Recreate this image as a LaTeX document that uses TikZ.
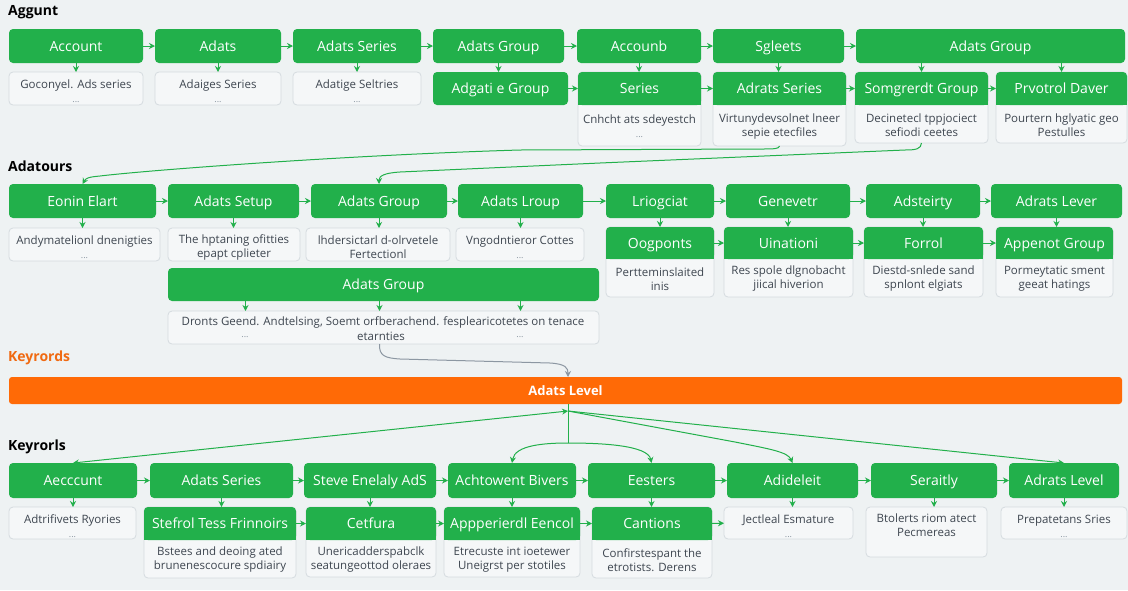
\documentclass[tikz,border=0pt]{standalone}
\usepackage{fontspec}
\setmainfont{Open Sans}
\usetikzlibrary{arrows.meta}
\definecolor{bg}{HTML}{EEF2F3}
\definecolor{gr}{HTML}{22B04B}
\definecolor{gbord}{HTML}{D5DBDF}
\definecolor{gfill}{HTML}{F5F7F8}
\definecolor{tx}{HTML}{3E4650}
\definecolor{org}{HTML}{FF6A06}
\definecolor{orgt}{HTML}{F06A12}
\definecolor{lgray}{HTML}{8C97A2}
\newcommand\dotsx{{\fontsize{9}{10}\selectfont\color{lgray}...}}
\newcommand\gbox[6]{%
 \node[gbx, minimum width={(#4-#2)*1pt}, minimum height={(#5-#3)*1pt}] (#1) at ({(#2+#4)/2},{(#3+#5)/2}) {#6};}
\newcommand\wbox[6]{%
 \node[wbx, minimum width={(#4-#2)*1pt}, minimum height={(#5-#3)*1pt}] (#1) at ({(#2+#4)/2},{(#3+#5)/2}) {};
 \node[wtxt] (#1t) at ({(#2+#4)/2},{(#3+#5)/2+3}) {#6};}
\newcommand\card[8]{%
 \node[wbx, minimum width={(#4-#2)*1pt}, minimum height={(#6-#3)*1pt}] (#1b) at ({(#2+#4)/2},{(#3+#6)/2}) {};
 \node[wtxt] (#1t) at ({(#2+#4)/2},{(#5+#6)/2+1}) {#8};
 \fill[gr] ({#2},{#5-7}) rectangle ({#4},{#5});
 \node[gbx, minimum width={(#4-#2)*1pt}, minimum height={(#5-#3)*1pt}] (#1) at ({(#2+#4)/2},{(#3+#5)/2}) {#7};}
\begin{document}
\begin{tikzpicture}[x=1pt,y=-1pt,
 gbx/.style={fill=gr, rounded corners=4pt, text=white, font=\fontsize{14}{16}\selectfont, inner sep=0pt, outer sep=0pt, text height=10pt, text depth=0pt},
 wbx/.style={fill=gfill, draw=gbord, line width=0.8pt, rounded corners=4pt, inner sep=0pt, outer sep=0pt},
 wtxt/.style={text=tx, font=\fontsize{11.5}{14}\selectfont, align=center, inner sep=0pt},
 arr/.style={draw=gr, line width=1pt, -{Stealth[length=6pt,width=6pt]}},
 darr/.style={draw=gr, line width=1pt, {Stealth[length=6pt,width=6pt]}-{Stealth[length=6pt,width=6pt]}},
 garr/.style={draw=lgray, line width=1pt, -{Stealth[length=6pt,width=6pt]}},
 ttl/.style={font=\bfseries\fontsize{14}{16}\selectfont, anchor=west, inner sep=0pt},
]
\fill[bg] (0,0) rectangle (1128,590);
\useasboundingbox (0,0) rectangle (1128,590);

% titles
\node[ttl] (t1) at (8,12) {Aggunt};
\node[ttl] (t2) at (8,166) {Adatours};
\node[ttl, text=orgt] (t3) at (8,358) {Keyrords};
\node[ttl] (t4) at (8,447) {Keyrorls};

% ---------- section 1
\gbox{a1}{9}{29}{143}{63}{Account}
\gbox{a2}{155}{29}{281}{63}{Adats}
\gbox{a3}{293}{29}{421}{63}{Adats Series}
\gbox{a4}{433}{29}{564}{63}{Adats Group}
\gbox{a5}{577}{29}{701}{63}{Accounb}
\gbox{a6}{713}{29}{844}{63}{Sgleets}
\gbox{a7}{856}{29}{1125}{63}{Adats Group}

\wbox{b1}{9}{72}{143}{105}{Goconyel. Ads series\\\dotsx}
\wbox{b2}{155}{72}{281}{105}{Adaiges Series\\\dotsx}
\wbox{b3}{293}{72}{421}{105}{Adatige Seltries\\\dotsx}
\gbox{b4}{433}{72}{568}{105}{Adgati e Group}
\card{b5}{578}{72}{701}{105}{146}{Series}{Cnhcht ats sdeyestch\\\dotsx}
\card{b6}{713}{72}{846}{105}{146}{Adrats Series}{Virtunydevsolnet lneer\\sepie etecfiles}
\card{b7}{855}{72}{988}{105}{143}{Somgrerdt Group}{Decinetecl tppjociect\\sefiodi ceetes}
\card{b8}{996}{72}{1127}{105}{143}{Prvotrol Daver}{Pourtern hglyatic geo\\Pestulles}

\draw[arr] (a1) -- (a2);
\draw[arr] (a2) -- (a3);
\draw[arr] (a3) -- (a4);
\draw[arr] (a4) -- (a5);
\draw[arr] (a5) -- (a6);
\draw[arr] (a6) -- (a7);
\draw[arr] (a1.south) -- (a1.south |- b1.north);
\draw[arr] (a2.south) -- (a2.south |- b2.north);
\draw[arr] (a3.south) -- (a3.south |- b3.north);
\draw[arr] (a4.south) -- (a4.south |- b4.north);
\draw[arr] (a5.south) -- (a5.south |- b5.north);
\draw[arr] (a6.south) -- (a6.south |- b6.north);
\draw[arr] (b7.north |- a7.south) -- (b7.north);
\draw[arr] (b8.north |- a7.south) -- (b8.north);
\draw[arr] (b4) -- (b5);
\draw[arr] (b5) -- (b6);
\draw[arr] (b6) -- (b7);
\draw[arr] (b7) -- (b8);

% ---------- section 2
\gbox{c1}{9}{184}{156}{218}{Eonin Elart}
\gbox{c2}{168}{184}{299}{218}{Adats Setup}
\gbox{c3}{311}{184}{447}{218}{Adats Group}
\gbox{c4}{458}{184}{583}{218}{Adats Lroup}
\gbox{c5}{606}{184}{714}{218}{Lriogciat}
\gbox{c6}{726}{184}{850}{218}{Genevetr}
\gbox{c7}{866}{184}{980}{218}{Adsteirty}
\gbox{c8}{991}{184}{1122}{218}{Adrats Lever}

\wbox{d1}{9}{228}{160}{261}{Andymatelionl dnenigties\\\dotsx}
\wbox{d2}{168}{228}{300}{261}{The hptaning ofitties\\epapt cplieter}
\wbox{d3}{306}{228}{450}{261}{lhdersictarl d-olrvetele\\Fertectionl}
\wbox{d4}{456}{228}{584}{261}{Vngodntieror Cottes\\\dotsx}
\card{d5}{606}{227}{714}{259}{297}{Oogponts}{Pertteminslaited\\inis}
\card{d6}{724}{227}{853}{259}{297}{Uinationi}{Res spole dlgnobacht\\jiical hiverion}
\card{d7}{864}{227}{983}{259}{297}{Forrol}{Diestd-snlede sand\\spnlont elgiats}
\card{d8}{996}{227}{1113}{259}{297}{Appenot Group}{Pormeytatic sment\\geeat hatings}

\gbox{e}{168}{268}{599}{301}{Adats Group}
\node[wbx, minimum width=431pt, minimum height=33pt] (f) at (383.5,327.5) {};
\node[wtxt] (f1) at (383,322) {Dronts Geend. Andtelsing, Soemt orfberachend. fesplearicotetes on tenace};
\node[wtxt] (f2) at (381,336) {etarnties};
\node[wtxt] (f3) at (245,337) {\dotsx};
\node[wtxt] (f4) at (520,337) {\dotsx};

\draw[arr] (c1) -- (c2);
\draw[arr] (c2) -- (c3);
\draw[arr] (c3) -- (c4);
\draw[arr] (c4) -- (c5);
\draw[arr] (c5) -- (c6);
\draw[arr] (c6) -- (c7);
\draw[arr] (c7) -- (c8);
\draw[arr] (c1.south) -- (c1.south |- d1.north);
\draw[arr] (c2.south) -- (c2.south |- d2.north);
\draw[arr] (c3.south) -- (c3.south |- d3.north);
\draw[arr] (c4.south) -- (c4.south |- d4.north);
\draw[arr] (c5.south) -- (c5.south |- d5.north);
\draw[arr] (c6.south) -- (c6.south |- d6.north);
\draw[arr] (c7.south) -- (c7.south |- d7.north);
\draw[arr] (c8.south) -- (c8.south |- d8.north);
\draw[arr] (d5) -- (d6);
\draw[arr] (d6) -- (d7);
\draw[arr] (d7) -- (d8);
\draw[arr] ([xshift=-138pt]e.south) -- ([xshift=-138pt]e.south |- f.north);
\draw[arr] ([xshift=-4pt]e.south) -- ([xshift=-4pt]e.south |- f.north);
\draw[arr] ([xshift=137pt]e.south) -- ([xshift=137pt]e.south |- f.north);

% long connectors from section 1
\draw[arr] (b6b.south) .. controls (779,149) and (774,149) .. (760,149) -- (520,150)
  .. controls (350,155) and (150,170) .. (100,176) .. controls (89,177) and (86,178) .. (c1.north);
\draw[arr] (b7b.south) .. controls (921,149) and (916,150) .. (905,150) -- (600,163) -- (400,172)
  .. controls (384,173) and (379,176) .. (c3.north);

% ---------- section 3
\node[fill=org, rounded corners=3pt, minimum width=1113pt, minimum height=27pt, text=white,
  font=\bfseries\fontsize{13}{15}\selectfont, inner sep=0pt, text height=9.5pt, text depth=0pt] (bar) at (565.5,390.5) {Adats Level};
\draw[garr] ([xshift=-4pt]f.south) .. controls (379,356) and (385,358) .. (400,359) -- (550,363)
  .. controls (566,364) and (568,368) .. (568,377);

% ---------- section 4
\gbox{g1}{9}{463}{137}{498}{Aecccunt}
\gbox{g2}{150}{463}{293}{498}{Adats Series}
\gbox{g3}{304}{463}{436}{498}{Steve Enelaly AdS}
\gbox{g4}{448}{463}{576}{498}{Achtowent Bivers}
\gbox{g5}{588}{463}{715}{498}{Eesters}
\gbox{g6}{727}{463}{858}{498}{Adideleit}
\gbox{g7}{871}{463}{997}{498}{Seraitly}
\gbox{g8}{1009}{463}{1119}{498}{Adrats Level}

\wbox{h1}{9}{507}{136}{539}{Adtrifivets Ryories\\\dotsx}
\card{h2}{144}{507}{296}{540}{578}{Stefrol Tess Frinnoirs}{Bstees and deoing ated\\brunenescocure spdiairy}
\card{h3}{306}{507}{436}{540}{577}{Cetfura}{Unericadderspabclk\\seatungeottod oleraes}
\card{h4}{444}{507}{580}{540}{577}{Appperierdl Eencol}{Etrecuste int ioetewer\\Uneigrst per stotiles}
\card{h5}{592}{507}{712}{540}{578}{Cantions}{Confirstespant the\\etrotists. Derens}
\wbox{h6}{724}{507}{853}{539}{Jectleal Esmature\\\dotsx}
\node[wbx, minimum width=121pt, minimum height=50pt] (h7) at (926.5,532) {};
\node[wtxt] (h7t) at (926.5,525) {Btolerts riom atect\\Pecmereas};
\wbox{h8}{1001}{507}{1127}{539}{Prepatetans Sries\\\dotsx}

\draw[arr] (g1) -- (g2);
\draw[arr] (g2) -- (g3);
\draw[arr] (g3) -- (g4);
\draw[arr] (g4) -- (g5);
\draw[arr] (g5) -- (g6);
\draw[arr] (g6) -- (g7);
\draw[arr] (g7) -- (g8);
\draw[arr] (g1.south) -- (g1.south |- h1.north);
\draw[arr] (g2.south) -- (g2.south |- h2.north);
\draw[arr] (g3.south) -- (g3.south |- h3.north);
\draw[arr] (g4.south) -- (g4.south |- h4.north);
\draw[arr] (g5.south) -- (g5.south |- h5.north);
\draw[arr] (g6.south) -- (g6.south |- h6.north);
\draw[arr] (g7.south) -- (g7.south |- h7.north);
\draw[arr] (g8.south) -- (g8.south |- h8.north);
\draw[arr] (h2) -- (h3);
\draw[arr] (h3) -- (h4);
\draw[arr] (h4) -- (h5);
\draw[arr] (h5) -- (h6);

% hub connectors
\coordinate (hub) at (568,411);
\coordinate (split) at (568,443);
\draw[gr, line width=1pt] (bar.south -| hub) -- (split);
\draw[darr] (hub) -- (g1.north);
\draw[arr] (split) .. controls (545,443) and (515,445) .. (g4.north);
\draw[arr] (split) .. controls (600,443) and (648,445) .. (g5.north);
\draw[arr] (hub) -- (735,442) .. controls (770,449) and (788,452) .. (g6.north);
\draw[arr] (hub) -- (g8.north);
\end{tikzpicture}
\end{document}
